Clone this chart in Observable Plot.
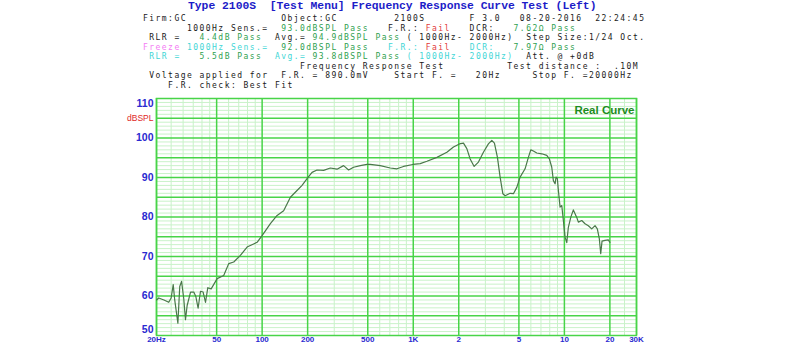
<!DOCTYPE html>
<html>
<head>
<meta charset="utf-8">
<script src="https://cdn.jsdelivr.net/npm/d3@7"></script>
<script src="https://cdn.jsdelivr.net/npm/@observablehq/plot@0.6"></script>
<style>
  html, body { margin: 0; padding: 0; background: #fff; }
  #page { position: relative; width: 800px; height: 359px; overflow: hidden; }
  #hdr { position: absolute; left: 0; top: 0; width: 800px; height: 90px;
         font-family: "DejaVu Sans Mono", monospace; font-size: 8px; letter-spacing: 1.464px;
         white-space: pre; color: #1a1a1a; }
  #hdr div { position: absolute; line-height: 9.3px; height: 9.3px; }
  #hdr .t { font-family: "Liberation Mono", "Courier New", monospace; font-size: 11.35px; letter-spacing: 0;
            font-weight: bold; color: #1c1cc8; line-height: 11px; height: 11px; }
  .k { color: #1a1a1a; } .g { color: #2f9f4f; } .r { color: #e23a3a; } .m { color: #f47cf4; } .c { color: #3fd6d6; }
  #chart { position: absolute; left: 0; top: 90px; }
</style>
</head>
<body>
<div id="page">
<div id="hdr">
<div class="t" style="left:188px;top:0.5px">Type 2100S  [Test Menu] Frequency Response Curve Test (Left)</div>
<div style="left:143px;top:14px"><span class="k">Firm:GC               Object:GC         2100S       F 3.0   08-20-2016  22:24:45</span></div>
<div style="left:143px;top:23.5px"><span class="k">       1000Hz Sens.=</span>  <span class="g">93.0dBSPL Pass</span>   <span class="k">F.R.:</span> <span class="r">Fail</span>   <span class="k">DCR:</span>   <span class="g">7.62Ω Pass</span></div>
<div style="left:143px;top:33.1px"><span class="k"> RLR =</span>   <span class="g">4.4dB Pass</span>  <span class="k">Avg.=</span> <span class="g">94.9dBSPL Pass</span> <span class="k">( 1000Hz- 2000Hz)  Step Size:1/24 Oct.</span></div>
<div style="left:143px;top:42.6px"><span class="m">Freeze</span> <span class="c">1000Hz Sens.=</span>  <span class="g">92.0dBSPL Pass</span>   <span class="c">F.R.:</span> <span class="r">Fail</span>   <span class="c">DCR:</span>   <span class="g">7.97Ω Pass</span></div>
<div style="left:143px;top:52.2px"><span class="c"> RLR =</span>   <span class="g">5.5dB Pass</span>  <span class="c">Avg.=</span> <span class="g">93.8dBSPL Pass</span> <span class="c">( 1000Hz- 2000Hz)</span>  <span class="k">Att. @ +0dB</span></div>
<div style="left:143px;top:61.7px"><span class="k">                         Frequency Response Test          Test distance :  .10M</span></div>
<div style="left:143px;top:71.2px"><span class="k"> Voltage applied for  F.R. = 890.0mV    Start F. =   20Hz     Stop F. =20000Hz</span></div>
<div style="left:143px;top:80.7px"><span class="k">    F.R. check: Best Fit</span></div>
</div>
<div id="chart"></div>
</div>
<script>
// Measured response curve (frequency in Hz, level in dBSPL)
const freq = [20, 20.7, 22.4, 24.1, 25, 25.8, 26.4, 27.7, 28.5, 29.3, 30.3, 31.1, 31.9, 33.6, 35.3, 36.4, 37.7, 39.1, 40.7, 42.2, 43.7, 46,
  50.4, 55.7, 60.1, 64.9, 71.8, 79.5, 92.6, 99.9, 113.4, 125.6, 138.8, 153.8, 170.2, 183.7, 200, 213.9, 230.8, 255.2, 282.5, 312.9,
  345.9, 373.3, 402.8, 446.1, 494.1, 519.5, 604.8, 704.3, 779.8, 862.1, 994.4, 1111.8, 1231.5, 1433.7, 1668.9, 1845.5, 2021, 2149,
  2262, 2379, 2529, 2699, 2912, 3142, 3309, 3444, 3605, 3756, 3914, 4055, 4375, 4600, 4842, 5092, 5494, 5777, 5992, 6235, 6565,
  7085, 7644, 7954, 8250, 8454, 8677, 8810, 8986, 9124, 9363, 9608, 9845, 10102, 10368, 10622, 11018, 11463, 12072, 12370, 13026,
  13697, 14401, 15166, 15947, 16515, 17025, 17394, 17742, 18553, 19508, 20030];
const spl = [59.0, 59.5, 59.0, 58.4, 59.5, 62.9, 59.0, 53.1, 62.4, 63.7, 59.3, 54.0, 57.6, 61.0, 61.0, 59.9, 56.9, 61.2, 61.0, 58.4, 62.1, 61.8,
  64.4, 65.2, 68.2, 68.6, 70.3, 72.4, 73.6, 75.3, 78.3, 80.4, 81.6, 85.0, 86.7, 88.0, 89.9, 91.3, 91.9, 91.8, 92.4, 92.1,
  93.0, 91.9, 92.6, 93.0, 93.3, 93.3, 93.0, 92.4, 92.2, 92.8, 93.3, 93.5, 94.1, 95.1, 96.4, 97.7, 98.5, 98.7,
  97.3, 94.7, 92.8, 93.9, 96.4, 98.5, 99.4, 98.7, 95.1, 90.1, 85.9, 85.4, 86.0, 85.9, 87.5, 90.1, 92.2, 95.1, 97.0, 96.7, 96.2,
  96.0, 95.6, 94.7, 92.6, 89.2, 88.4, 90.1, 89.7, 86.7, 82.5, 82.9, 79.1, 74.9, 73.5, 77.4, 79.9, 81.8, 79.9, 78.7, 79.1,
  78.3, 77.8, 77.0, 77.8, 77.0, 74.5, 70.7, 73.9, 74.1, 74.2, 73.6];

// Axis ticks and labels
const xTicks = [20, 50, 100, 200, 500, 1000, 2000, 5000, 10000, 20000, 30000];
const xLabels = ["20Hz", "50", "100", "200", "500", "1K", "2", "5", "10", "20", "30K"];
const xMinor = [25, 30, 35, 40, 45, 60, 70, 80, 90, 300, 400, 600, 700, 800, 900,
  3000, 4000, 6000, 7000, 8000, 9000, 25000];
const yMajorTicks = [55, 60, 65, 70, 75, 80, 85, 90, 95, 100, 105];
const yLabelsMid = [60, 70, 80, 90, 100];
const yLabelTop = [110];
const yLabelBottom = [50];
const yMinor = [51,52,53,54,56,57,58,59,61,62,63,64,66,67,68,69,71,72,73,74,76,77,78,79,81,82,83,84,86,87,88,89,91,92,93,94,96,97,98,99,101,102,103,104,106,107,108,109];
const unitLabel = [{text: "dBSPL", at: 105}];
const legendLabel = ["Real Curve"];

const rows = freq.map((f, i) => ({f, db: spl[i]}));
const MAJOR = "#48d448", MINOR = "#c9f2c9", BLUE = "#2a2ad0";

const chart = Plot.plot({
  width: 800, height: 269,
  marginTop: 8, marginBottom: 24, marginLeft: 156, marginRight: 164,
  x: {type: "log", domain: [20, 30000], axis: null},
  y: {domain: [50, 110], axis: null},
  style: {background: "#fff", fontFamily: "Liberation Sans, Arial, sans-serif"},
  marks: [
    Plot.ruleX(xMinor, {stroke: MINOR, strokeWidth: 1}),
    Plot.ruleY(yMinor, {stroke: MINOR, strokeWidth: 1}),
    Plot.ruleX(xTicks, {stroke: MAJOR, strokeWidth: 1.5}),
    Plot.ruleY(yMajorTicks, {stroke: MAJOR, strokeWidth: 1.5}),
    Plot.frame({stroke: MAJOR, strokeWidth: 1.5}),
    Plot.line(rows, {x: "f", y: "db", stroke: "#4a784a", strokeWidth: 1.2, curve: "linear"}),
    Plot.text(xTicks, {x: d => d, frameAnchor: "bottom", dy: 6.5, text: (d, i) => xLabels[i],
      fill: BLUE, fontSize: 8, fontWeight: "bold"}),
    Plot.text(yLabelsMid, {y: d => d, frameAnchor: "left", dx: -3, textAnchor: "end", text: d => String(d),
      fill: BLUE, fontSize: 10.5, fontWeight: "bold"}),
    Plot.text(yLabelTop, {y: d => d, frameAnchor: "left", dx: -3, dy: 5, textAnchor: "end", text: d => String(d),
      fill: BLUE, fontSize: 10.5, fontWeight: "bold"}),
    Plot.text(yLabelBottom, {y: d => d, frameAnchor: "left", dx: -3, dy: -5.5, textAnchor: "end", text: d => String(d),
      fill: BLUE, fontSize: 10.5, fontWeight: "bold"}),
    Plot.text(unitLabel, {y: "at", frameAnchor: "left", dx: -3, textAnchor: "end", text: "text",
      fill: "#e02828", fontSize: 8.5}),
    Plot.text(legendLabel, {frameAnchor: "top-right", dx: -2, dy: 7, textAnchor: "end", text: d => d,
      fill: "#1e8c1e", fontSize: 11.5, fontWeight: "bold"})
  ]
});
document.getElementById("chart").appendChild(chart);
</script>
</body>
</html>
